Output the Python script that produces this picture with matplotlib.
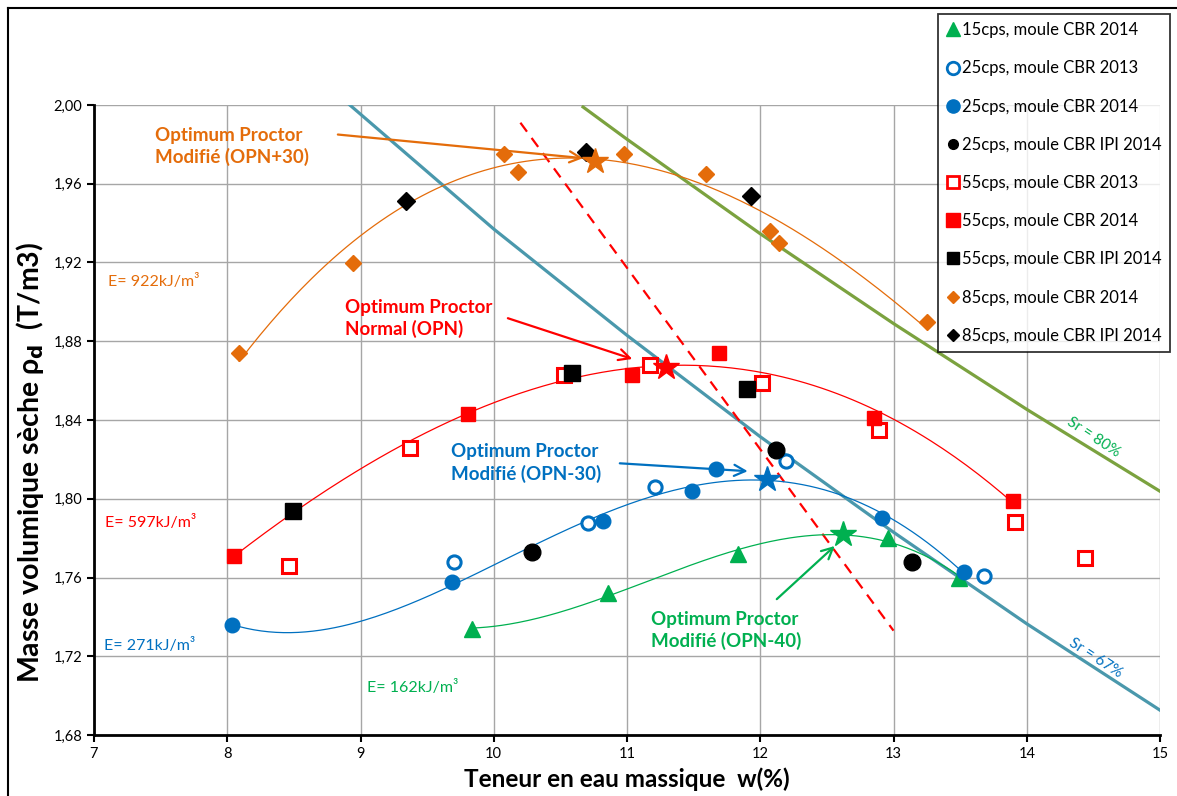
import numpy as np
import matplotlib
matplotlib.use("Agg")
import matplotlib.pyplot as plt
from matplotlib.ticker import FuncFormatter
from matplotlib.lines import Line2D

plt.rcParams['font.family'] = ['Lato', 'DejaVu Sans']

# 15 cps, moule CBR 2014
w_15 = [9.84, 10.86, 11.83, 12.96, 13.49]
rho_15 = [1.734, 1.752, 1.772, 1.780, 1.760]

# 25 cps
w_25_2013 = [9.70, 10.71, 11.21, 12.19, 13.68]
rho_25_2013 = [1.768, 1.7875, 1.806, 1.819, 1.761]
w_25_2014 = [8.035, 9.69, 10.82, 11.49, 11.67, 12.91, 13.53]
rho_25_2014 = [1.736, 1.7575, 1.7885, 1.804, 1.815, 1.790, 1.763]
w_25_ipi = [10.29, 12.12, 13.14]
rho_25_ipi = [1.773, 1.825, 1.768]

# 55 cps
w_55_2013 = [8.46, 9.37, 10.53, 11.17, 12.01, 12.89, 13.91, 14.44]
rho_55_2013 = [1.766, 1.826, 1.863, 1.868, 1.859, 1.835, 1.788, 1.770]
w_55_2014 = [8.05, 9.81, 11.04, 11.69, 12.85, 13.90]
rho_55_2014 = [1.771, 1.843, 1.863, 1.874, 1.841, 1.799]
w_55_ipi = [8.49, 10.59, 11.90]
rho_55_ipi = [1.794, 1.864, 1.856]

# 85 cps
w_85_2014 = [8.09, 8.94, 10.08, 10.18, 10.98, 11.59, 12.07, 12.14, 13.25]
rho_85_2014 = [1.874, 1.920, 1.975, 1.966, 1.975, 1.965, 1.936, 1.930, 1.890]
w_85_ipi = [9.34, 10.69, 11.93]
rho_85_ipi = [1.951, 1.976, 1.954]

# optimums (stars)
w_opt = [10.76, 11.29, 12.05, 12.62]
rho_opt = [1.9715, 1.867, 1.810, 1.782]

# saturation lines
w_sr67 = [8.92, 10, 11, 12, 13, 14, 15]
rho_sr67 = [2.000, 1.937, 1.883, 1.8315, 1.783, 1.7365, 1.6926]
w_sr80 = [10.67, 11, 12, 13, 14, 15]
rho_sr80 = [1.999, 1.9826, 1.9346, 1.889, 1.8454, 1.8038]

# line of optimums
w_line_opt = [10.20, 13.00]
rho_line_opt = [1.991, 1.733]

orange = '#E46C0A'
red = '#FF0000'
blue = '#0070C0'
green = '#00B050'
teal = '#4A98AC'
olive = '#7BA23F'

fig = plt.figure(figsize=(11.77, 7.96), dpi=100)
ax = fig.add_axes([94 / 1177, 61 / 796, 1066 / 1177, 630 / 796])


def trend(w, rho, deg, color):
    c = np.polyfit(w, rho, deg)
    xs = np.linspace(min(w), max(w), 200)
    ax.plot(xs, np.polyval(c, xs), color=color, lw=0.9, zorder=3)


trend(w_85_2014 + w_85_ipi, rho_85_2014 + rho_85_ipi, 3, orange)
trend(w_55_2014, rho_55_2014, 3, red)
trend(w_25_2014, rho_25_2014, 4, blue)
trend(w_15, rho_15, 3, green)

ax.plot(w_sr67, rho_sr67, color=teal, lw=2.3, zorder=2)
ax.plot(w_sr80, rho_sr80, color=olive, lw=2.3, zorder=2)
ax.plot(w_line_opt, rho_line_opt, color=red, lw=1.6, ls=(0, (5, 3.5)), zorder=2)

ax.plot(w_15, rho_15, '^', color=green, ms=11, ls='none', zorder=5)
ax.plot(w_25_2013, rho_25_2013, 'o', mfc='white', mec=blue, mew=2.2, ms=9.5, ls='none', zorder=5)
ax.plot(w_25_2014, rho_25_2014, 'o', color=blue, ms=10.5, ls='none', zorder=5)
ax.plot(w_25_ipi, rho_25_ipi, 'o', color='black', ms=12, ls='none', zorder=5)
ax.plot(w_55_2013, rho_55_2013, 's', mfc='white', mec=red, mew=2.2, ms=10, ls='none', zorder=5)
ax.plot(w_55_2014, rho_55_2014, 's', color=red, ms=10.5, ls='none', zorder=5)
ax.plot(w_55_ipi, rho_55_ipi, 's', color='black', ms=11, ls='none', zorder=5)
ax.plot(w_85_2014, rho_85_2014, 'D', color=orange, ms=8.5, ls='none', zorder=5)
ax.plot(w_85_ipi, rho_85_ipi, 'D', color='black', ms=9.5, ls='none', zorder=5)

star_colors = [orange, red, blue, green]
for x, y, c in zip(w_opt, rho_opt, star_colors):
    ax.plot(x, y, '*', color=c, ms=19, zorder=6)

# annotations
font_ann = dict(fontsize=13.5, fontweight='bold', ha='left', va='center', linespacing=1.3)
arrow = dict(arrowstyle='->', lw=1.6, mutation_scale=20, shrinkA=0, shrinkB=0)

ax.text(7.458, 1.979, "Optimum Proctor\nModifié (OPN+30)", color=orange, **font_ann)
ax.annotate("", xy=(10.67, 1.973), xytext=(8.83, 1.985),
            arrowprops=dict(color=orange, **arrow))
ax.text(8.883, 1.8915, "Optimum Proctor\nNormal (OPN)", color=red, **font_ann)
ax.annotate("", xy=(11.04, 1.871), xytext=(10.106, 1.8917),
            arrowprops=dict(color=red, **arrow))
ax.text(9.678, 1.8183, "Optimum Proctor\nModifié (OPN-30)", color=blue, **font_ann)
ax.annotate("", xy=(11.906, 1.814), xytext=(10.946, 1.818),
            arrowprops=dict(color=blue, **arrow))
ax.text(11.18, 1.733, "Optimum Proctor\nModifié (OPN-40)", color=green, **font_ann)
ax.annotate("", xy=(12.559, 1.776), xytext=(12.124, 1.749),
            arrowprops=dict(color=green, **arrow))

font_e = dict(fontsize=11.5, ha='left', va='center')
ax.text(7.105, 1.9105, "E= 922kJ/m³", color=orange, **font_e)
ax.text(7.083, 1.788, "E= 597kJ/m³", color=red, **font_e)
ax.text(7.075, 1.7255, "E= 271kJ/m³", color=blue, **font_e)
ax.text(9.048, 1.704, "E= 162kJ/m³", color=green, **font_e)

ax.text(14.50, 1.831, "Sr = 80%", color=green, fontsize=11, rotation=-33.5,
        ha='center', va='center', rotation_mode='anchor')
ax.text(14.517, 1.719, "Sr = 67%", color=blue, fontsize=11, rotation=-33,
        ha='center', va='center', rotation_mode='anchor')

# axes formatting
ax.set_xlim(7, 15)
ax.set_ylim(1.68, 2.00)
ax.set_xticks(range(7, 16))
ax.set_yticks(np.arange(1.68, 2.0001, 0.04))
ax.yaxis.set_major_formatter(FuncFormatter(lambda v, p: f"{v:.2f}".replace('.', ',')))
ax.grid(True, color='#A6A6A6', lw=1)
ax.set_axisbelow(True)
for side in ['top', 'right']:
    ax.spines[side].set_visible(False)
for side in ['left', 'bottom']:
    ax.spines[side].set_linewidth(2)
ax.tick_params(direction='out', length=5, width=1.5, labelsize=10.5)

ax.set_xlabel("Teneur en eau massique  w(%)", fontsize=17.5, fontweight='bold', labelpad=5)
ax.set_ylabel("Masse volumique sèche ρ$_\\mathbf{d}$  (T/m3)", fontsize=20.5, fontweight='bold',
              va='center')
ax.yaxis.set_label_coords(-0.060, 0.433)

handles = [
    Line2D([], [], marker='^', color=green, ls='none', ms=10),
    Line2D([], [], marker='o', mfc='white', mec=blue, mew=2, ls='none', ms=9),
    Line2D([], [], marker='o', color=blue, ls='none', ms=9.5),
    Line2D([], [], marker='o', color='black', ls='none', ms=7),
    Line2D([], [], marker='s', mfc='white', mec=red, mew=2, ls='none', ms=9),
    Line2D([], [], marker='s', color=red, ls='none', ms=9.5),
    Line2D([], [], marker='s', color='black', ls='none', ms=8),
    Line2D([], [], marker='D', color=orange, ls='none', ms=6),
    Line2D([], [], marker='D', color='black', ls='none', ms=6),
]
labels = ["15cps, moule CBR 2014", "25cps, moule CBR 2013", "25cps, moule CBR 2014",
          "25cps, moule CBR IPI 2014", "55cps, moule CBR 2013", "55cps, moule CBR 2014",
          "55cps, moule CBR IPI 2014", "85cps, moule CBR 2014", "85cps, moule CBR IPI 2014"]
leg = fig.legend(handles, labels, loc='upper left', bbox_to_anchor=(938 / 1177, 1 - 14 / 796),
                 fontsize=12, frameon=True, fancybox=False, edgecolor='black',
                 handlelength=0.8, handletextpad=0.15, labelspacing=1.33, borderpad=0.5,
                 borderaxespad=0)
leg.get_frame().set_linewidth(1.3)
leg.set_zorder(10)

# outer frame
fig.add_artist(Line2D([8 / 1177, 8 / 1177], [0, 1 - 8 / 796], color='black', lw=1.5))
fig.add_artist(Line2D([8 / 1177, 1], [1 - 8 / 796, 1 - 8 / 796], color='black', lw=1.5))

fig.savefig("out.png", dpi=100)
